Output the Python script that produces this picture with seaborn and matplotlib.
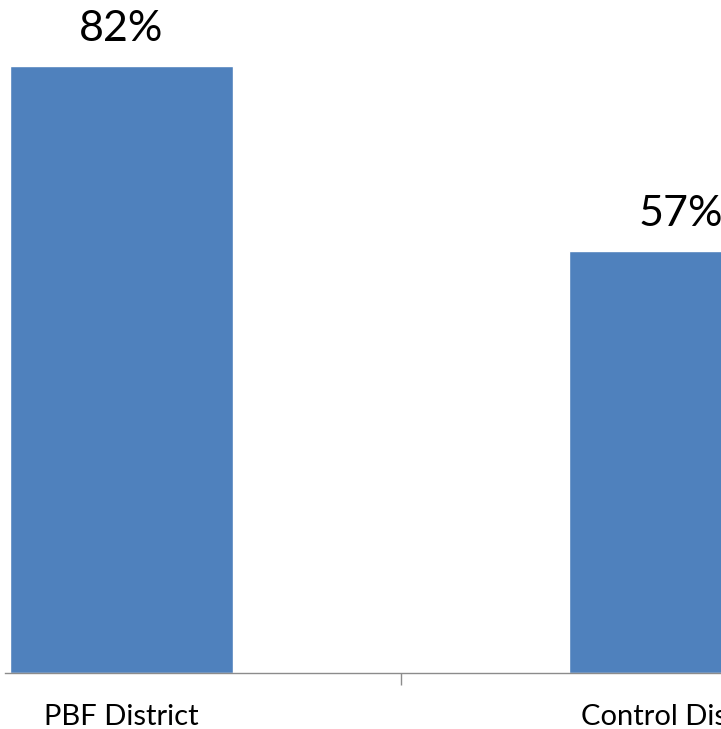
import matplotlib
matplotlib.use("Agg")
import matplotlib.pyplot as plt
import seaborn as sns
import pandas as pd

categories = ["PBF District", "Control District"]
values = [82, 57]

sns.set_style("white")
plt.rcParams['font.family'] = ['Lato', 'DejaVu Sans']

df = pd.DataFrame({"district": categories, "pct": values})

fig = plt.figure(figsize=(7.21, 7.29), dpi=100)
ax = fig.add_axes([5/721, (729-673)/729, 716/721, 673/729])

sns.barplot(data=df, x="district", y="pct", color="#4F81BD", saturation=1,
            width=0.4, ax=ax, order=categories)

ax.set_xlim(-0.2084, 1.0725)
ax.set_ylim(0, 90.95)
ax.set_xlabel("")
ax.set_ylabel("")
ax.set_yticks([])

for s in ["top", "right", "left"]:
    ax.spines[s].set_visible(False)
ax.spines["bottom"].set_color("#8c8c8c")
ax.spines["bottom"].set_linewidth(1.0)

ax.tick_params(axis="x", which="major", length=0, pad=22, labelsize=21, colors="#000000")
ax.set_xticks([0.5], minor=True)
ax.tick_params(axis="x", which="minor", bottom=True, length=8.6, width=1, color="#8c8c8c")

for c in ax.containers:
    ax.bar_label(c, labels=[f"{v}%" for v in values], padding=13, fontsize=31, color="#000000")

fig.savefig("out.png", dpi=100)
